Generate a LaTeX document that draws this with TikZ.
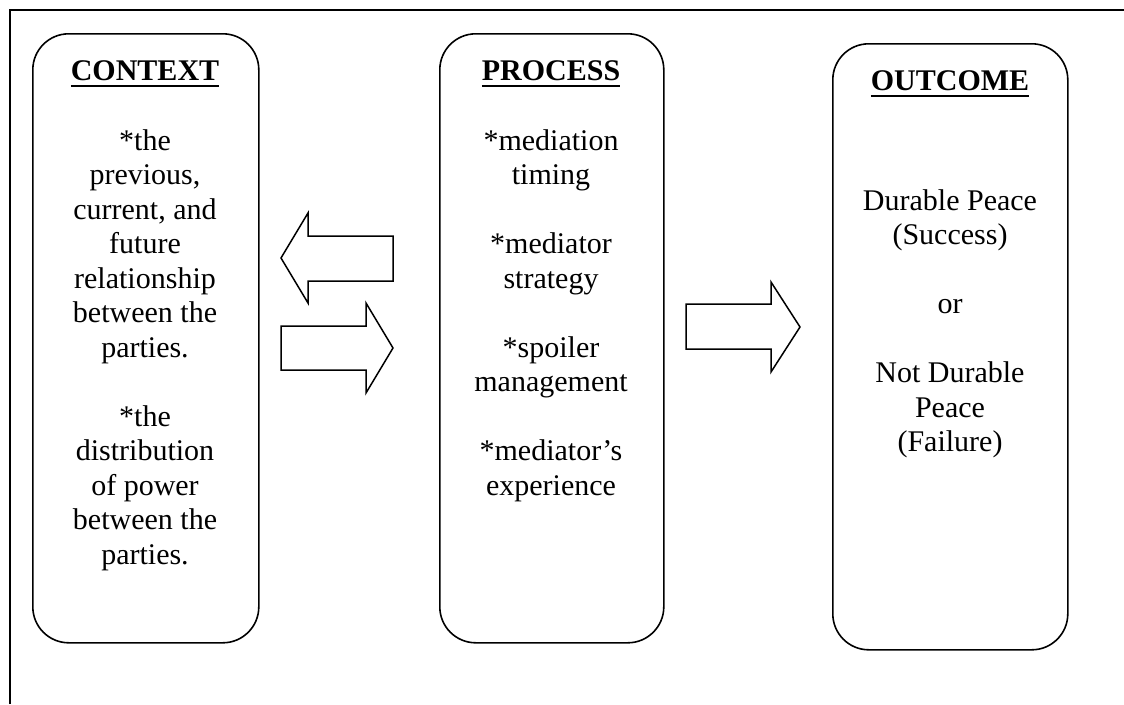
\documentclass[tikz,border=0pt]{standalone}
\usepackage{fontspec}
\setmainfont{Liberation Serif}
\newcommand\headul[1]{\leavevmode\vtop{\hbox{#1}\kern4.5pt\hrule height 2pt}}
\begin{document}
\begin{tikzpicture}[x=1pt,y=-1pt,
  panel/.style={draw, line width=1.6pt, rounded corners=36pt, anchor=north west, inner sep=0pt},
  frameline/.style={line width=2.4pt},
  blockarrow/.style={draw, line width=1.5pt, line join=miter},
  bodytext/.style={align=center, inner sep=0pt, anchor=north, font=\fontsize{30}{34.5}\selectfont},
  headtext/.style={inner sep=0pt, anchor=base, font=\fontsize{30}{34.5}\selectfont\bfseries}]
\useasboundingbox (0,0) rectangle (1124,704);
% outer frame (top and left only)
\coordinate (fbl) at (10,704);
\coordinate (ftl) at (10,10);
\coordinate (ftr) at (1124,10);
\draw[frameline] (fbl) -- (ftl) -- (ftr);
% panels
\node[panel, minimum width=226pt, minimum height=609pt] (ctx) at (32,33) {};
\node[panel, minimum width=224pt, minimum height=609pt] (prc) at (439,33) {};
\node[panel, minimum width=235pt, minimum height=606pt] (out) at (832,43) {};
% headings
\node[headtext] (ctxh) at (145,80) {\headul{CONTEXT}};
\node[headtext] (prch) at (551,80) {\headul{PROCESS}};
\node[headtext] (outh) at (950,90) {\headul{OUTCOME}};
% texts
\node[bodytext] (ctxb) at (145,125.85) {\strut *the\\previous,\\current, and\\future\\relationship\\between the\\parties.\\[34.5pt]*the\\distribution\\of power\\between the\\parties.};
\node[bodytext] (prcb) at (551,125.85) {\strut *mediation\\timing\\[34.5pt]*mediator\\strategy\\[34.5pt]*spoiler\\management\\[34.5pt]*mediator’s\\experience};
\node[bodytext] (outb) at (950,185.85) {\strut Durable Peace\\(Success)\\[34.5pt]or\\[34.5pt]Not Durable\\Peace\\(Failure)};
% block arrows
\draw[blockarrow] (281,258) -- (308,213) -- (308,236) -- (393,236) -- (393,281) -- (308,281) -- (308,303) -- cycle;
\draw[blockarrow] (393,348) -- (366,303) -- (366,326) -- (281,326) -- (281,370) -- (366,370) -- (366,393) -- cycle;
\draw[blockarrow] (800,327) -- (771,282) -- (771,304) -- (686,304) -- (686,349) -- (771,349) -- (771,372) -- cycle;
\end{tikzpicture}
\end{document}
